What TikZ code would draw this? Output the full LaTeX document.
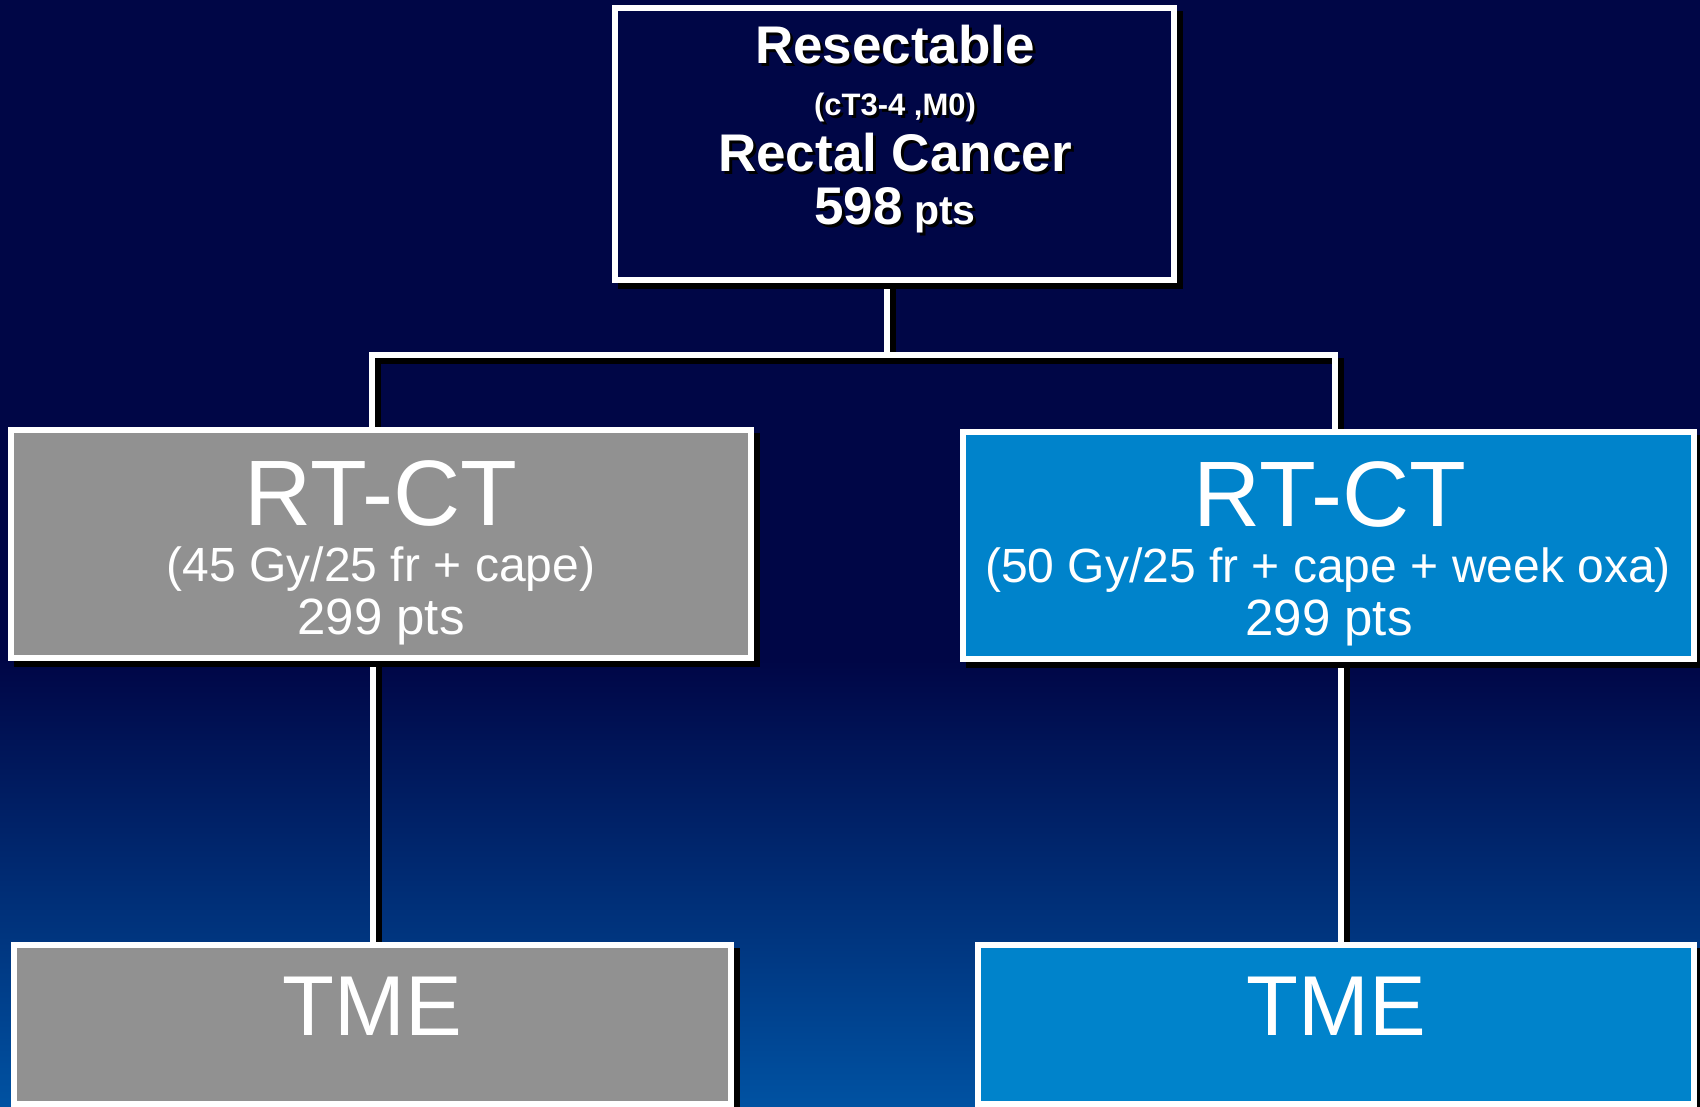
\documentclass[tikz,border=0pt]{standalone}
\usepackage{fontspec}
\setmainfont{Liberation Sans}
\usetikzlibrary{calc}
\definecolor{navy}{RGB}{0,6,70}
\definecolor{bluebot}{RGB}{0,82,162}
\definecolor{boxgray}{RGB}{145,145,145}
\definecolor{boxblue}{RGB}{0,131,203}
\pgfdeclarelayer{bg}
\pgfsetlayers{bg,main}
\newcommand{\shtext}[1]{\makebox[0pt][l]{\hspace{3pt}\raisebox{-3pt}{\color{black}#1}}#1}
\begin{document}
\begin{tikzpicture}[x=1pt,y=-1pt,
  box/.style={draw=white, line width=6pt, inner sep=0pt, outer sep=0pt, anchor=north west,
    preaction={fill=black, draw=black, line width=6pt, transform canvas={shift={(6,6)}}}},
  conn/.style={draw=white, line width=6pt, line join=miter,
    preaction={draw=black, line width=6pt, line join=miter, transform canvas={shift={(6,6)}}}},
  txt/.style={text=white, inner sep=0pt, outer sep=0pt, anchor=base},
  bigtxt/.style={txt, font=\fontsize{93}{100}\selectfont},
  midtxt/.style={txt, font=\fontsize{48}{52}\selectfont},
  pttxt/.style={txt, font=\fontsize{51}{55}\selectfont},
  tmetxt/.style={txt, font=\fontsize{85}{90}\selectfont},
  boldbig/.style={txt, font=\bfseries\fontsize{53}{58}\selectfont},
  boldsmall/.style={txt, font=\bfseries\fontsize{31}{34}\selectfont}]
\useasboundingbox (0,0) rectangle (1700,1106);
\begin{pgfonlayer}{bg}
  \fill[navy] (0,0) rectangle (1700,661);
  \shade[top color=navy, bottom color=bluebot] (0,660) rectangle (1700,1106);
\end{pgfonlayer}

% boxes
\node[box, fill=navy, minimum width=559pt, minimum height=272pt] (top) at (615,8) {};
\node[box, fill=boxgray, minimum width=740pt, minimum height=228pt] (rtl) at (11,430) {};
\node[box, fill=boxblue, minimum width=731pt, minimum height=227pt] (rtr) at (963,432) {};
\node[box, fill=boxgray, minimum width=717pt, minimum height=159pt] (tmel) at (14,945) {};
\node[box, fill=boxblue, minimum width=716pt, minimum height=159pt] (tmer) at (978,945) {};

% connectors
\coordinate (jn) at (887,355);
\coordinate (hl) at (372,355);
\coordinate (hr) at (1335,355);
\coordinate (vl) at (373,0);
\coordinate (vr) at (1341,0);
\begin{pgfonlayer}{bg}
  \draw[conn] (top.south -| jn) -- (jn);
  \draw[conn] (rtl.north -| hl) -- (hl) -- (hr) -- (rtr.north -| hr);
  \draw[conn] (rtl.south -| vl) -- (tmel.north -| vl);
  \draw[conn] (rtr.south -| vr) -- (tmer.north -| vr);
\end{pgfonlayer}

% top box text
\node[boldbig] (t1) at (895,63) {\shtext{Resectable}};
\node[boldsmall] (t2) at (895,115) {\shtext{(cT3-4 ,M0)}};
\node[boldbig] (t3) at (895,171) {\shtext{Rectal Cancer}};
\node[boldbig] (t4) at (895,224) {\shtext{598{\fontsize{41}{45}\selectfont\ pts}}};

% left arm text
\node[bigtxt] (l1) at (381,525) {RT-CT};
\node[midtxt] (l2) at (381,581) {(45 Gy/25 fr + cape)};
\node[pttxt] (l3) at (381,634) {299 pts};

% right arm text
\node[bigtxt] (r1) at (1330,526) {RT-CT};
\node[midtxt] (r2) at (1328,582) {(50 Gy/25 fr + cape + week oxa)};
\node[pttxt] (r3) at (1329,635) {299 pts};

% TME
\node[tmetxt] (m1) at (372,1035) {TME};
\node[tmetxt] (m2) at (1336,1035) {TME};
\end{tikzpicture}
\end{document}
